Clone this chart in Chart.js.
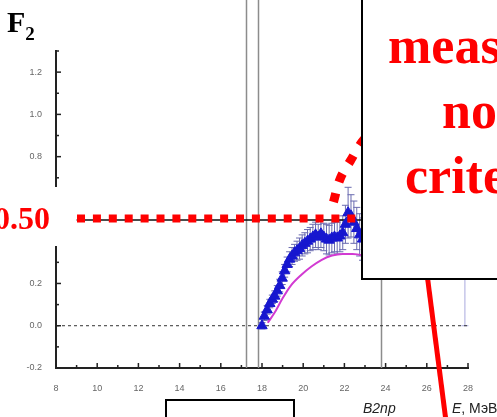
<!DOCTYPE html>
<html>
<head>
<meta charset="utf-8">
<script src="https://cdn.jsdelivr.net/npm/chart.js@4.4.0/dist/chart.umd.min.js"></script>
<style>
  html, body { margin: 0; padding: 0; background: #fff; }
  #wrap { position: relative; width: 497px; height: 417px; overflow: hidden; background: #fff; }
  #chart { position: absolute; left: 0; top: 0; }
  #over { position: absolute; left: 0; top: 0; }
  .big { font-family: "Liberation Serif", "Times New Roman", serif; font-weight: bold; fill: #ff0000; }
  .lab { font-family: "Liberation Sans", Arial, sans-serif; fill: #222; }
</style>
</head>
<body>
<div id="wrap">
  <canvas id="chart" width="497" height="417"></canvas>
  <svg id="over" width="497" height="417">
    <rect x="0" y="187" width="70" height="59" fill="#fff"></rect>
    <text class="big" x="50" y="229" font-size="32" text-anchor="end">0.50</text>
    <text x="7" y="32" font-family="Liberation Serif, Times New Roman, serif" font-weight="bold" font-size="30" fill="#000">F<tspan font-size="19" dy="8">2</tspan></text>
    <line x1="426.5" y1="270" x2="446.5" y2="425" stroke="#ff0000" stroke-width="5"></line>
    <rect x="362" y="-5" width="200" height="284" fill="#fff" stroke="#000" stroke-width="2"></rect>
    <text class="big" x="388" y="63" font-size="52">meas</text>
    <text class="big" x="442" y="128" font-size="52">no</text>
    <text class="big" x="405" y="193" font-size="52">crite</text>
    <rect x="166" y="400" width="128" height="40" fill="#fff" stroke="#000" stroke-width="2"></rect>
    <text class="lab" x="363" y="413" font-size="14" font-style="italic">B2np</text>
    <text class="lab" x="452" y="413" font-size="14"><tspan font-style="italic">E</tspan>, МэВ</text>
  </svg>
</div>
<script>
// measured points (blue triangles)
var triX = [18.00, 18.11, 18.25, 18.38, 18.50, 18.62, 18.74, 18.86, 18.98, 19.10,
            19.22, 19.34, 19.46, 19.58, 19.70, 19.82, 19.95, 20.08, 20.21, 20.34,
            20.47, 20.60, 20.73, 20.86, 21.00, 21.13, 21.26, 21.39, 21.52, 21.65,
            21.78, 21.92, 22.05, 22.18, 22.32, 22.46, 22.60, 22.74, 22.88];
var triY = [0.000, 0.045, 0.075, 0.105, 0.125, 0.140, 0.165, 0.190, 0.225, 0.260,
            0.290, 0.315, 0.330, 0.345, 0.355, 0.365, 0.380, 0.390, 0.400, 0.410,
            0.420, 0.430, 0.420, 0.435, 0.420, 0.410, 0.405, 0.415, 0.420, 0.415,
            0.425, 0.440, 0.480, 0.535, 0.520, 0.490, 0.460, 0.430, 0.410];
var triErr = [0.015, 0.020, 0.020, 0.020, 0.020, 0.025, 0.025, 0.030, 0.030, 0.030,
              0.035, 0.035, 0.040, 0.040, 0.045, 0.050, 0.050, 0.050, 0.055, 0.055,
              0.060, 0.060, 0.060, 0.065, 0.065, 0.070, 0.070, 0.070, 0.070, 0.075,
              0.075, 0.080, 0.090, 0.120, 0.100, 0.100, 0.100, 0.100, 0.100];

// lone point at the right edge (mostly under the box)
var farX = [27.85];
var farY = [0.36];
var farErr = [0.36];

// calculated curve (magenta)
var fitX = [18.28, 18.6, 19.0, 19.4, 19.9, 20.4, 20.9, 21.4, 21.9, 22.4, 22.9, 23.3];
var fitY = [0.014, 0.060, 0.130, 0.190, 0.240, 0.280, 0.312, 0.332, 0.340, 0.340, 0.333, 0.320];

// vertical thresholds
var refLines = [17.22, 17.8, 23.8];

// red annotation: level 0.50 and the arc leaving it
var levelX = [9.02, 22.68];
var levelY = [0.507, 0.507];
var markX = [9.0, 24.0];
var markY = [0.5, 0.5];
var arcX = [21.47, 21.8, 22.29, 22.83, 23.4];
var arcY = [0.585, 0.697, 0.78, 0.866, 0.93];

var xMin = 8, xMax = 28, yMin = -0.2, yMax = 1.3;

function pts(xs, ys) {
  return xs.map(function (x, i) { return { x: x, y: ys[i] }; });
}

var extras = {
  id: 'extras',
  beforeDatasetsDraw: function (chart) {
    var ctx = chart.ctx, xs = chart.scales.x, ys = chart.scales.y;
    var bottom = chart.chartArea.bottom;
    ctx.save();
    ctx.strokeStyle = '#8c8c8c';
    ctx.lineWidth = 1.5;
    refLines.forEach(function (v) {
      var px = Math.round(xs.getPixelForValue(v)) + 0.5;
      ctx.beginPath();
      ctx.moveTo(px, 0);
      ctx.lineTo(px, bottom);
      ctx.stroke();
    });
    function bars(xArr, yArr, eArr, color) {
      ctx.strokeStyle = color;
      ctx.lineWidth = 1;
      xArr.forEach(function (x, i) {
        var px = xs.getPixelForValue(x);
        var top = ys.getPixelForValue(yArr[i] + eArr[i]);
        var bot = ys.getPixelForValue(yArr[i] - eArr[i]);
        ctx.beginPath();
        ctx.moveTo(px, top); ctx.lineTo(px, bot);
        ctx.moveTo(px - 3.5, top); ctx.lineTo(px + 3.5, top);
        ctx.moveTo(px - 3.5, bot); ctx.lineTo(px + 3.5, bot);
        ctx.stroke();
      });
    }
    bars(triX, triY, triErr, '#6a6bb0');
    bars(farX, farY, farErr, '#a9aade');
    ctx.restore();
  },
  afterDraw: function (chart) {
    var ctx = chart.ctx, xs = chart.scales.x, ys = chart.scales.y;
    var a = chart.chartArea;
    ctx.save();
    ctx.strokeStyle = '#222';
    ctx.lineWidth = 1.5;
    xs.ticks.forEach(function (t) {
      var px = xs.getPixelForValue(t.value);
      var len = Math.round(t.value) % 2 === 0 ? 5 : 3;
      ctx.beginPath();
      ctx.moveTo(px, a.bottom);
      ctx.lineTo(px, a.bottom - len);
      ctx.stroke();
    });
    ys.ticks.forEach(function (t) {
      var py = ys.getPixelForValue(t.value);
      var len = Math.round(t.value * 10) % 2 === 0 ? 5 : 3;
      ctx.beginPath();
      ctx.moveTo(a.left, py);
      ctx.lineTo(a.left + len, py);
      ctx.stroke();
    });
    ctx.restore();
  }
};

new Chart(document.getElementById('chart').getContext('2d'), {
  type: 'scatter',
  data: {
    datasets: [
      {
        label: 'level',
        type: 'line',
        data: pts(levelX, levelY),
        borderColor: '#ff0000',
        borderWidth: 8,
        borderDash: [8, 7.9],
        borderCapStyle: 'butt',
        pointRadius: 0,
        order: 0
      },
      {
        label: 'arc',
        type: 'line',
        data: pts(arcX, arcY),
        borderColor: '#ff0000',
        borderWidth: 9,
        borderDash: [9, 12],
        borderCapStyle: 'butt',
        tension: 0.4,
        pointRadius: 0,
        order: 0
      },
      {
        label: 'F2',
        data: pts(triX, triY),
        pointStyle: 'triangle',
        pointRadius: 6,
        backgroundColor: '#1717cf',
        borderColor: '#1717cf',
        borderWidth: 1,
        order: 1
      },
      {
        label: 'far',
        data: pts(farX, farY),
        pointStyle: 'triangle',
        pointRadius: 6,
        backgroundColor: '#1717cf',
        borderColor: '#1717cf',
        order: 1
      },
      {
        label: 'mark',
        type: 'line',
        data: pts(markX, markY),
        borderColor: '#111',
        borderWidth: 1.5,
        pointRadius: 0,
        order: 2
      },
      {
        label: 'calc',
        type: 'line',
        data: pts(fitX, fitY),
        borderColor: '#d23ad2',
        borderWidth: 2,
        tension: 0.4,
        cubicInterpolationMode: 'monotone',
        pointRadius: 0,
        order: 3
      },
      {
        label: 'zero',
        type: 'line',
        data: pts([xMin, xMax], [0, 0]),
        borderColor: '#333',
        borderWidth: 1,
        borderDash: [3, 3],
        pointRadius: 0,
        order: 4
      }
    ]
  },
  options: {
    responsive: false,
    animation: false,
    events: [],
    layout: { padding: { left: 0, right: 29, top: 51, bottom: 0 } },
    plugins: { legend: { display: false }, tooltip: { enabled: false } },
    scales: {
      x: {
        type: 'linear',
        min: xMin, max: xMax,
        afterFit: function (s) { s.height = 49; },
        grid: { display: false },
        border: { display: true, color: '#222', width: 2 },
        ticks: {
          stepSize: 1,
          padding: 7,
          color: '#666',
          font: { family: 'Liberation Sans, Arial, sans-serif', size: 9 },
          maxRotation: 0,
          autoSkip: false,
          callback: function (v) { return Math.round(v) % 2 === 0 ? String(v) : ''; }
        }
      },
      y: {
        type: 'linear',
        min: yMin, max: yMax,
        afterFit: function (s) { s.width = 56; },
        grid: { display: false },
        border: { display: true, color: '#222', width: 2 },
        ticks: {
          stepSize: 0.1,
          padding: 6,
          color: '#666',
          font: { family: 'Liberation Sans, Arial, sans-serif', size: 9 },
          autoSkip: false,
          callback: function (v) {
            var k = Math.round(v * 10);
            return k % 2 === 0 ? (k / 10).toFixed(1) : '';
          }
        }
      }
    }
  },
  plugins: [extras]
});
</script>
</body>
</html>
